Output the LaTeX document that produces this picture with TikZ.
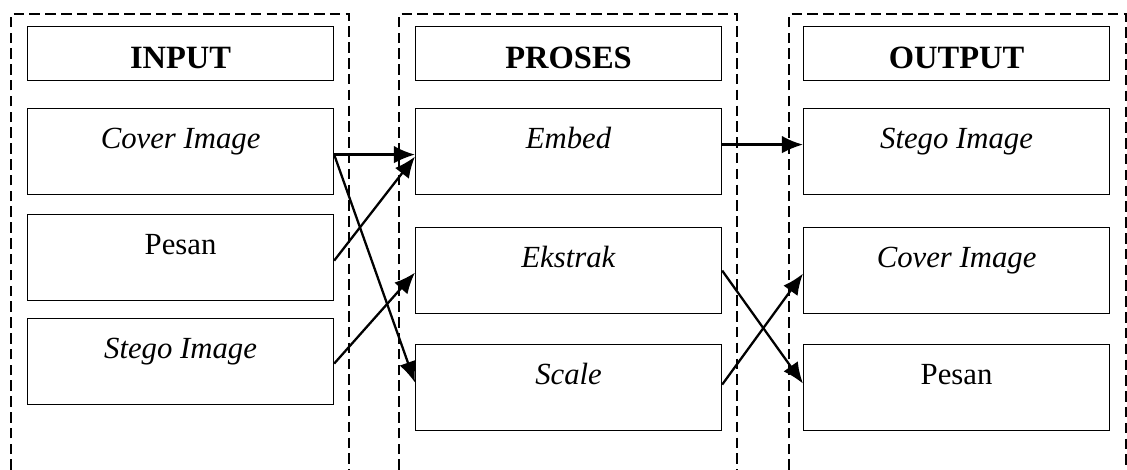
\documentclass[tikz,border=0pt]{standalone}
\usepackage{fontspec}
\setmainfont{Liberation Serif}
\usetikzlibrary{arrows.meta,calc}
\begin{document}
\begin{tikzpicture}[x=0.02cm, y=-0.02cm, >={Latex[length=12pt,width=10pt]},
		blok/.style={draw, line width=0.7pt, minimum width=6.12cm, inner ysep=0pt,
			text height=0.8cm, text depth=0.92cm, anchor=north west,
			font=\fontsize{17.5}{20}\selectfont},
		judul/.style={blok, text height=0.84cm, text depth=0.24cm,
			font=\fontsize{18.5}{22}\selectfont\bfseries},
		kolom/.style={line width=0.6pt, dash pattern=on 6pt off 3pt},
		panah/.style={->, line width=1.3pt}]
	\useasboundingbox (0,0) rectangle (1127,470);
	% kolom putus-putus
	\foreach \a/\b in {11/349, 399/737, 789/1126}
		{
			\draw[kolom] (\a,470) |- (\b,14) -- (\b,470);
		}
	% input
	\node[judul] (input) at (27,26) {INPUT};
	\node[blok] (coverin) at (27,108) {\textit{Cover Image}};
	\node[blok] (pesanin) at (27,214) {Pesan};
	\node[blok] (stegoin) at (27,318) {\textit{Stego Image}};
	% proses
	\node[judul] (proses) at (415,26) {PROSES};
	\node[blok] (embed) at (415,108) {\textit{Embed}};
	\node[blok] (ekstrak) at (415,227) {\textit{Ekstrak}};
	\node[blok] (scale) at (415,344) {\textit{Scale}};
	% output
	\node[judul] (output) at (803,26) {OUTPUT};
	\node[blok] (stegoout) at (803,108) {\textit{Stego Image}};
	\node[blok] (coverout) at (803,227) {\textit{Cover Image}};
	\node[blok] (pesanout) at (803,344) {Pesan};
	% panah
	\draw[panah] ($(coverin.east)+(0,3)$) -- ($(embed.west)+(0,3)$);
	\draw[panah] ($(coverin.east)+(0,3)$) -- ($(scale.west)+(0,-5)$);
	\draw[panah] ($(pesanin.east)+(0,3)$) -- ($(embed.west)+(0,5)$);
	\draw[panah] ($(stegoin.east)+(0,2)$) -- ($(ekstrak.west)+(0,2)$);
	\draw[panah] ($(embed.east)+(0,-7)$) -- ($(stegoout.west)+(0,-7)$);
	\draw[panah] (ekstrak.east) -- ($(pesanout.west)+(0,-4)$);
	\draw[panah] ($(scale.east)+(0,-3)$) -- ($(coverout.west)+(0,3)$);
\end{tikzpicture}
\end{document}
